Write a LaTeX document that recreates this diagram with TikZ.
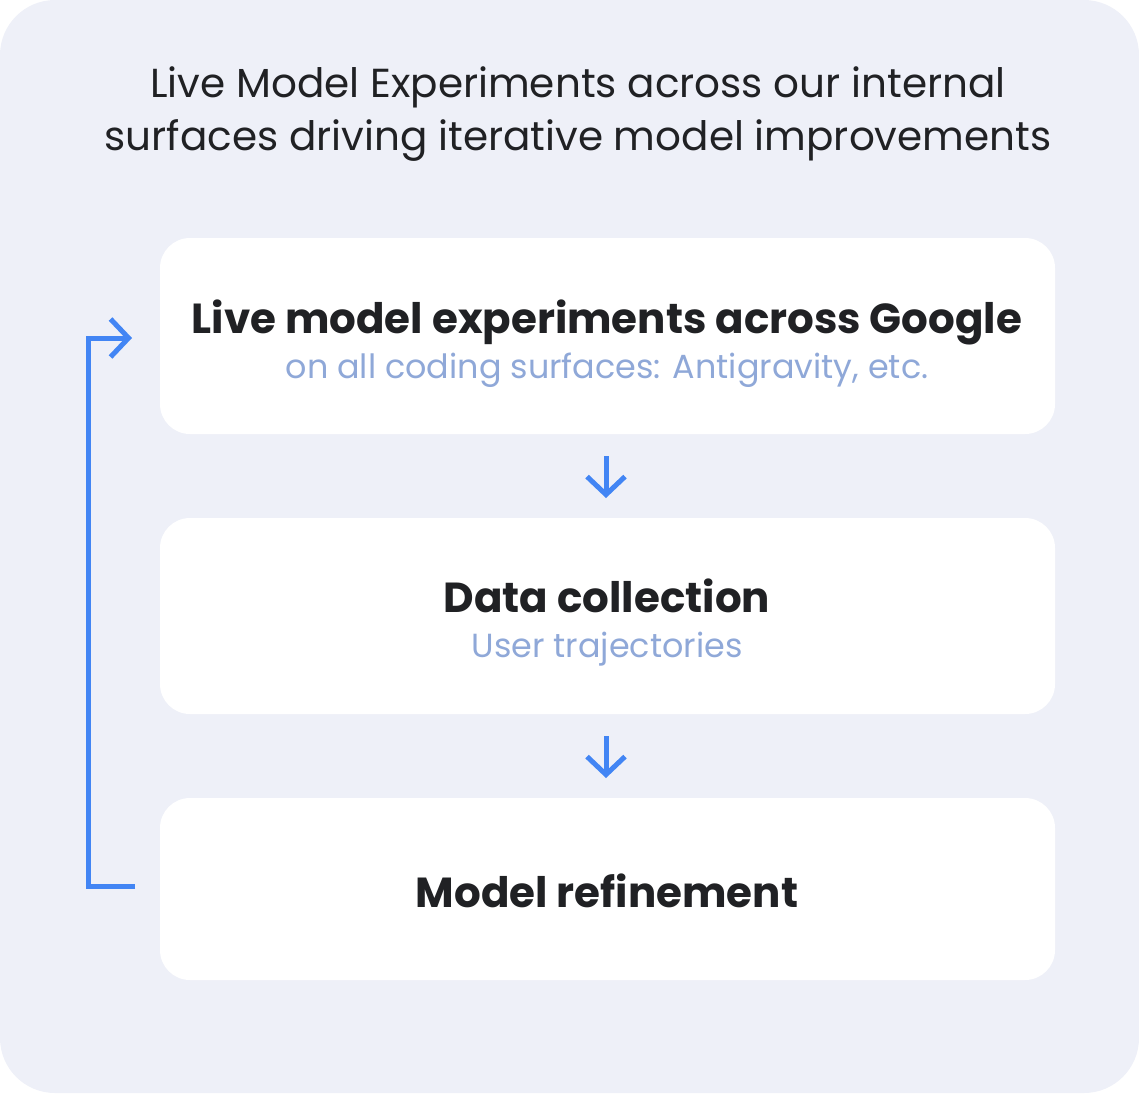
\documentclass[tikz,border=0pt]{standalone}
\usepackage{fontspec}
\setmainfont{Poppins}
\usetikzlibrary{arrows.meta}
\definecolor{bgc}{HTML}{EEF0F8}
\definecolor{ink}{HTML}{202124}
\definecolor{subc}{HTML}{8FA8D8}
\definecolor{gblue}{HTML}{4285F4}
\tikzset{
  card/.style={fill=white, rounded corners=30pt},
  head/.style={anchor=base, text=ink, font=\fontsize{42}{50}\selectfont\bfseries, inner sep=0pt},
  sub/.style={anchor=base, text=subc, font=\fontsize{33.4}{40}\selectfont, inner sep=0pt},
  ttl/.style={anchor=base, text=ink, font=\fontsize{40.5}{48}\selectfont, inner sep=0pt},
  flow/.style={draw=gblue, line width=5pt, -{Straight Barb[length=18pt,width=38pt,line width=5pt]}},
}
\begin{document}
\begin{tikzpicture}[x=1pt,y=-1pt]
\useasboundingbox (0,0) rectangle (1139,1093);
\fill[bgc, rounded corners=55pt] (0,0) rectangle (1139,1093);
\node[ttl] (t1) at (578,97) {Live Model Experiments across our internal};
\node[ttl] (t2) at (578,150) {surfaces driving iterative model improvements};
\fill[card] (160,238) rectangle (1055,434);
\fill[card] (160,518) rectangle (1055,714);
\fill[card] (160,798) rectangle (1055,980);
\node[head] (h1) at (607,333) {Live model experiments across Google};
\node[sub] (s1) at (607,378) {on all coding surfaces: Antigravity, etc.};
\node[head] (h2) at (607,612) {Data collection};
\node[sub] (s2) at (607,657) {User trajectories};
\node[head] (h3) at (607,907) {Model refinement};
\coordinate (a1s) at (606,456);
\coordinate (a1e) at (606,498);
\coordinate (a2s) at (606,736);
\coordinate (a2e) at (606,778);
\draw[flow] (a1s) -- (a1e);
\draw[flow] (a2s) -- (a2e);
\coordinate (lb) at (135,886);
\coordinate (lt) at (132,338);
\draw[flow] (lb) -- (88,886) -- (88,338) -- (lt);
\end{tikzpicture}
\end{document}
